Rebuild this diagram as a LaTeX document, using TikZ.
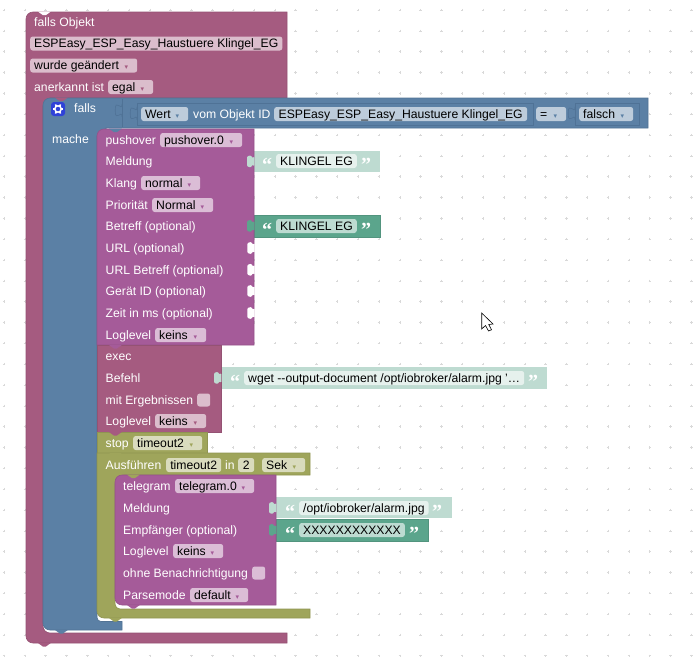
\documentclass[tikz,border=0pt]{standalone}
\usepackage{fontspec}
\setmainfont{Liberation Sans}
\newfontfamily\symfont{DejaVu Sans}
\newfontfamily\quotefont{Liberation Serif}
\usepackage{xcolor}
\definecolor{maroon}{HTML}{A55B80}
\definecolor{maroonfld}{HTML}{DBBDCC}
\definecolor{bluebl}{HTML}{5B80A5}
\definecolor{bluefld}{HTML}{BDCCDB}
\definecolor{blueln}{HTML}{4F7296}
\definecolor{gearbl}{HTML}{2F42D8}
\definecolor{purplebl}{HTML}{A55B99}
\definecolor{purplefld}{HTML}{DBBDD6}
\definecolor{olivebl}{HTML}{9FA55B}
\definecolor{olivefld}{HTML}{D9DBBD}
\definecolor{tealbl}{HTML}{5BA58C}
\definecolor{tealfld}{HTML}{BDDBD1}
\definecolor{mintbl}{HTML}{BEDBD1}
\definecolor{mintfld}{HTML}{E6F1ED}
\newcommand{\ddf}[3]{\makebox[\dimexpr#1pt-8pt\relax][l]{#2\hfill{\symfont\fontsize{7}{8}\selectfont\color{#3}▾}\hspace{5pt}}}
\tikzset{
	valsock/.pic={\path[pic actions] (0,0) .. controls (0,8.5) and (-6.8,-6.8) .. (-6.8,6.4)
		.. controls (-6.8,19.5) and (0,4.3) .. (0,12.8);},
	valtab/.pic={\path[pic actions, rounded corners=1pt] (0.3,1.5) -- (-1.6,3.2) -- (-3,0.3) -- (-7,1.4) -- (-7,11.4) -- (-3,12.5) -- (-1.6,9.6) -- (0.3,11.3) -- cycle;},
	notchtab/.pic={\path[pic actions] (0,0) -- (5,3.6) -- (7.8,3.6) -- (12.8,0) -- cycle;}
}
\begin{document}
\begin{tikzpicture}[x=1pt,y=-1pt]
	\tikzstyle{lbl} = [anchor=west, inner sep=0pt, text=white, text height=10pt, text depth=2pt, font=\fontsize{12.2}{14}\selectfont]
	\tikzstyle{fld} = [anchor=west, rounded corners=2.5pt, inner xsep=4pt, inner ysep=0pt, minimum height=14pt, text=black, text height=10pt, text depth=2pt, font=\fontsize{12.2}{14}\selectfont]
	\tikzstyle{quo} = [anchor=center, inner sep=0pt, text=white, font=\quotefont\bfseries\fontsize{20}{20}\selectfont, text height=21pt, text depth=0pt]
	\tikzstyle{bl} = [line width=0.6pt]
	\useasboundingbox (0,0) rectangle (700,667);
	\foreach \i in {0,...,33}
		\foreach \j in {0,...,31}
			\draw [black!15, line width=0.5pt] ({4+20.83*\i-1.2},{10+20.83*\j}) -- +(2.4,0) ({4+20.83*\i},{10+20.83*\j-1.2}) -- +(0,2.4);

	\path [bl, fill=maroon, draw=maroon!90!black] (26,30) [rounded corners=7pt] -- (26,12) [sharp corners] -- (287,12) -- (287,98) -- (50,98) -- (50,106) -- (43,106) [rounded corners=7pt] -- (43,633) [sharp corners] -- (287,633) -- (287,643) [rounded corners=7pt] -- (26,643) [sharp corners] -- cycle;
	\pic [fill=white] at (38,11.6) {notchtab};
	\pic [fill=maroon] at (38,643) {notchtab};

	\path [bl, fill=bluebl, draw=bluebl!90!black] (43,115) [rounded corners=7pt] -- (43,98) [sharp corners] -- (648,98) -- (648,128) -- (106,128) -- (106,136) -- (97,136) [rounded corners=4pt] -- (97,621.5) [sharp corners] -- (122,621.5) -- (122,630) [rounded corners=7pt] -- (43,630) [sharp corners] -- cycle;
	\pic [fill=maroon] at (55,97.6) {notchtab};
	\pic [fill=bluebl] at (55,630) {notchtab};
	\draw [blueln, line width=0.6pt] (122,99) -- (122,127);
	\pic [draw=blueln, line width=0.6pt] at (122,104) {valsock};
	\draw [blueln, line width=0.6pt] (137,103) rectangle (533,125);
	\pic [fill=bluebl, draw=blueln, line width=0.6pt] at (137,107) {valsock};
	\draw [blueln, line width=0.6pt] (575,103) rectangle (639,125);
	\pic [fill=bluebl, draw=blueln, line width=0.6pt] at (575,107) {valsock};

	\path [bl, fill=tealbl, draw=tealbl!90!black] (254,215) rectangle (380,237);
	\path [fill=mintbl] (254,151) rectangle (380,172);
	\path [fill=mintbl] (221,367) rectangle (547,388.5);
	\path [fill=mintbl] (276,497) rectangle (452,518);
	\path [bl, fill=tealbl, draw=tealbl!90!black] (276,519) rectangle (428,541);

	\path [bl, fill=purplebl, draw=purplebl!90!black] (97,145) [rounded corners=7pt] -- (97,129) [sharp corners] -- (254,129) -- (254,345) -- (97,345) -- cycle;
	\pic [fill=bluebl] at (109,128.6) {notchtab};
	\pic [fill=mintbl] at (254,155) {valtab};
	\pic [fill=tealbl] at (254,219.5) {valtab};
	\foreach \y in {241.6,263.4,284.6,306.6}
		\pic [fill=white] at (254.4,\y) {valtab};

	\path [bl, fill=maroon, draw=maroon!90!black] (97,345) -- (221,345) -- (221,432) -- (97,432) -- cycle;
	\pic [fill=purplebl] at (109,345) {notchtab};
	\pic [fill=mintbl] at (221,371.5) {valtab};

	\path [bl, fill=olivebl, draw=olivebl!90!black] (97,432) -- (207,432) -- (207,453) -- (97,453) -- cycle;
	\pic [fill=maroon] at (109,432) {notchtab};
	\path [bl, fill=olivebl, draw=olivebl!90!black] (97,453) -- (310,453) -- (310,475) -- (124,475) -- (124,484) -- (115,484) [rounded corners=5pt] -- (115,609) [sharp corners] -- (310,609) -- (310,618) [rounded corners=7pt] -- (97,618) [sharp corners] -- cycle;
	\pic [fill=olivebl] at (109,453) {notchtab};
	\pic [fill=olivebl] at (109,618) {notchtab};

	\path [bl, fill=purplebl, draw=purplebl!90!black] (115,490) [rounded corners=7pt] -- (115,475) [sharp corners] -- (276,475) -- (276,605) [rounded corners=7pt] -- (115,605) [sharp corners] -- cycle;
	\pic [fill=olivebl] at (127,474.6) {notchtab};
	\pic [fill=purplebl] at (127,605) {notchtab};
	\pic [fill=mintbl] at (276,501.5) {valtab};
	\pic [fill=tealbl] at (276,523.5) {valtab};

	\node (trigger) [lbl] at (34,22) {falls Objekt};
	\node (objid) [fld, fill=maroonfld, minimum width=252pt] at (30,43.5) {ESPEasy\_ESP\_Easy\_Haustuere Klingel\_EG};
	\node (changed) [fld, fill=maroonfld] at (30,65.5) {\ddf{107}{wurde geändert}{maroon}};
	\node (ackl) [lbl] at (34,87) {anerkannt ist};
	\node (ack) [fld, fill=maroonfld] at (108,87) {\ddf{45}{egal}{maroon}};

	\node (gearbox) [anchor=center, fill=gearbl, rounded corners=3pt, minimum size=14pt, inner sep=0pt] at (58,109) {};
	\draw [white, line width=1.5pt] (gearbox.center) circle (3.2);
	\foreach \a in {0,60,...,300}
		\draw [white, line width=1.6pt] (gearbox.center) ++(\a:3.4) -- ++(\a:1.8);
	\node (ifl) [lbl] at (74,108) {falls};
	\node (dol) [lbl] at (52,139) {mache};
	\node (wert) [fld, fill=bluefld] at (141,114) {\ddf{47}{Wert}{bluebl}};
	\node (voml) [lbl] at (193,114) {vom Objekt ID};
	\node (cmpid) [fld, fill=bluefld, minimum width=253pt] at (274,114) {ESPEasy\_ESP\_Easy\_Haustuere Klingel\_EG};
	\node (eqop) [fld, fill=bluefld] at (536,114) {\ddf{30}{=}{bluebl}};
	\node (falsch) [fld, fill=bluefld] at (579,114) {\ddf{54}{falsch}{bluebl}};

	\node (pushl) [lbl] at (105.5,140) {pushover};
	\node (push) [fld, fill=purplefld] at (160,140) {\ddf{82}{pushover.0}{purplebl}};
	\node (msgl) [lbl] at (105.5,161) {Meldung};
	\node (klangl) [lbl] at (105.5,183) {Klang};
	\node (klang) [fld, fill=purplefld] at (141,183) {\ddf{59}{normal}{purplebl}};
	\node (priol) [lbl] at (105.5,205) {Priorität};
	\node (prio) [fld, fill=purplefld] at (152,205) {\ddf{61}{Normal}{purplebl}};
	\node (betrl) [lbl] at (105.5,226) {Betreff (optional)};
	\node (urll) [lbl] at (105.5,248) {URL (optional)};
	\node (urlbl) [lbl] at (105.5,270) {URL Betreff (optional)};
	\node (devl) [lbl] at (105.5,291) {Gerät ID (optional)};
	\node (timel) [lbl] at (105.5,313) {Zeit in ms (optional)};
	\node (logl) [lbl] at (105.5,335) {Loglevel};
	\node (log) [fld, fill=purplefld] at (155,335) {\ddf{51}{keins}{purplebl}};

	\node (msgq) [quo] at (267,161) {“};
	\node (msg) [fld, fill=mintfld, minimum width=80pt] at (276,161) {KLINGEL EG};
	\node (msgr) [quo] at (366,161) {”};
	\node (betrq) [quo] at (267,226) {“};
	\node (betr) [fld, fill=tealfld, minimum width=80pt] at (276,226) {KLINGEL EG};
	\node (betrr) [quo] at (366,226) {”};

	\node (execl) [lbl] at (105.5,356) {exec};
	\node (cmdl) [lbl] at (105.5,378) {Befehl};
	\node (cmdq) [quo] at (235,378) {“};
	\node (cmd) [fld, fill=mintfld, minimum width=280pt] at (244,378) {wget {-}{-}output-document /opt/iobroker/alarm.jpg '…};
	\node (cmdr) [quo] at (533,378) {”};
	\node (resl) [lbl] at (105.5,400) {mit Ergebnissen};
	\node (res) [fld, fill=maroonfld, minimum width=13pt, minimum height=13pt, inner xsep=0pt, text height=0pt, text depth=0pt] at (197,400) {};
	\node (execll) [lbl] at (105.5,421) {Loglevel};
	\node (execlog) [fld, fill=maroonfld] at (155,421) {\ddf{51}{keins}{maroon}};

	\node (stopl) [lbl] at (105.5,443) {stop};
	\node (stop) [fld, fill=olivefld] at (133,443) {\ddf{69}{timeout2}{olivebl}};
	\node (runl) [lbl] at (105.5,465) {Ausführen};
	\node (run) [fld, fill=olivefld, minimum width=55pt] at (166,465) {timeout2};
	\node (inl) [lbl] at (225,465) {in};
	\node (num) [fld, fill=olivefld, minimum width=16pt, inner xsep=0pt] at (238,465) {2};
	\node (unit) [fld, fill=olivefld] at (262,465) {\ddf{43}{Sek}{olivebl}};

	\node (tgl) [lbl] at (123,486) {telegram};
	\node (tg) [fld, fill=purplefld] at (175,486) {\ddf{79}{telegram.0}{purplebl}};
	\node (tgmsgl) [lbl] at (123,508) {Meldung};
	\node (tgq) [quo] at (290,508) {“};
	\node (tgmsg) [fld, fill=mintfld, minimum width=129pt] at (299,508) {/opt/iobroker/alarm.jpg};
	\node (tgr) [quo] at (437,508) {”};
	\node (rcvl) [lbl] at (123,530) {Empfänger (optional)};
	\node (rcvq) [quo] at (290,530) {“};
	\node (rcv) [fld, fill=tealfld, minimum width=105pt] at (299,530) {XXXXXXXXXXXX};
	\node (rcvr) [quo] at (414,530) {”};
	\node (tglogl) [lbl] at (123,551) {Loglevel};
	\node (tglog) [fld, fill=purplefld] at (173,551) {\ddf{50}{keins}{purplebl}};
	\node (nonotl) [lbl] at (123,573) {ohne Benachrichtigung};
	\node (nonot) [fld, fill=purplefld, minimum width=13pt, minimum height=13pt, inner xsep=0pt, text height=0pt, text depth=0pt] at (252,573) {};
	\node (parsel) [lbl] at (123,595) {Parsemode};
	\node (parse) [fld, fill=purplefld] at (190,595) {\ddf{58}{default}{purplebl}};

	\path [fill=white, draw=black, line width=0.6pt] (481.7,313) -- (481.7,329) -- (485.5,325.5) -- (488.5,331) -- (491.5,329.8) -- (488.8,324.5) -- (493,324) -- cycle;
\end{tikzpicture}
\end{document}
